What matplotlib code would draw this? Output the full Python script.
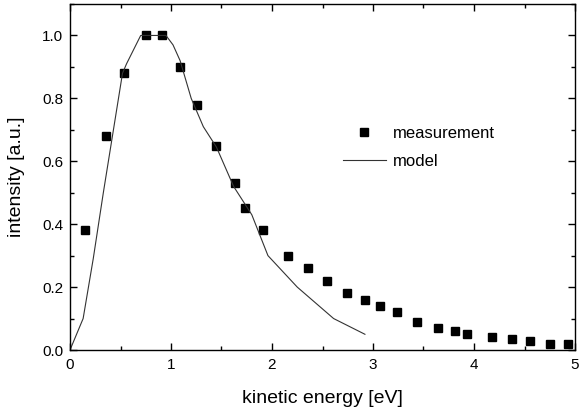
import matplotlib
matplotlib.use("Agg")
import matplotlib.pyplot as plt
from matplotlib.ticker import MultipleLocator, FormatStrFormatter

plt.rcParams['font.family'] = ['Liberation Sans', 'DejaVu Sans']

meas_x = [0.15, 0.36, 0.53, 0.75, 0.91, 1.09, 1.26, 1.45, 1.63, 1.73, 1.91,
          2.16, 2.36, 2.54, 2.74, 2.92, 3.07, 3.24, 3.44, 3.64, 3.81, 3.93,
          4.18, 4.38, 4.55, 4.75, 4.93]
meas_y = [0.38, 0.68, 0.88, 1.00, 1.00, 0.90, 0.78, 0.65, 0.53, 0.45, 0.38,
          0.30, 0.26, 0.22, 0.18, 0.16, 0.14, 0.12, 0.09, 0.07, 0.06, 0.05,
          0.04, 0.035, 0.03, 0.02, 0.02]

model_x = [0.0, 0.13, 0.23, 0.33, 0.52, 0.56, 0.70, 0.95, 1.02, 1.09, 1.20,
           1.32, 1.45, 1.62, 1.80, 1.96, 2.25, 2.61, 2.92]
model_y = [0.0, 0.10, 0.29, 0.50, 0.88, 0.91, 1.00, 1.00, 0.97, 0.92, 0.80,
           0.71, 0.645, 0.52, 0.43, 0.30, 0.20, 0.10, 0.05]

fig = plt.figure(figsize=(5.79, 4.12), dpi=100)
ax = fig.add_axes([70/579, 1 - 350/412, 505/579, 346/412])

ax.plot(meas_x, meas_y, 'ks', markersize=6, linestyle='none', label='measurement')
ax.plot(model_x, model_y, '-', color='#333333', linewidth=0.8, label='model')

ax.set_xlim(0, 5)
ax.set_ylim(0, 1.1)
ax.xaxis.set_major_locator(MultipleLocator(1))
ax.xaxis.set_minor_locator(MultipleLocator(0.5))
ax.yaxis.set_major_locator(MultipleLocator(0.2))
ax.yaxis.set_minor_locator(MultipleLocator(0.1))
ax.yaxis.set_major_formatter(FormatStrFormatter('%.1f'))
ax.tick_params(which='both', direction='in', top=True, right=True, labelsize=11)
ax.tick_params(which='major', length=5, width=1)
ax.tick_params(which='minor', length=3, width=1)
ax.tick_params(axis='x', pad=6)
ax.tick_params(axis='y', pad=5)
for s in ax.spines.values():
    s.set_linewidth(1)

ax.set_xlabel('kinetic energy [eV]', fontsize=14, labelpad=13)
ax.set_ylabel('intensity [a.u.]', fontsize=14, labelpad=12)

ax.legend(loc='upper left', bbox_to_anchor=(0.51, 0.69), frameon=False,
          fontsize=12, handlelength=2.6, handletextpad=0.4, labelspacing=0.75)

fig.savefig('out.png', dpi=100)
